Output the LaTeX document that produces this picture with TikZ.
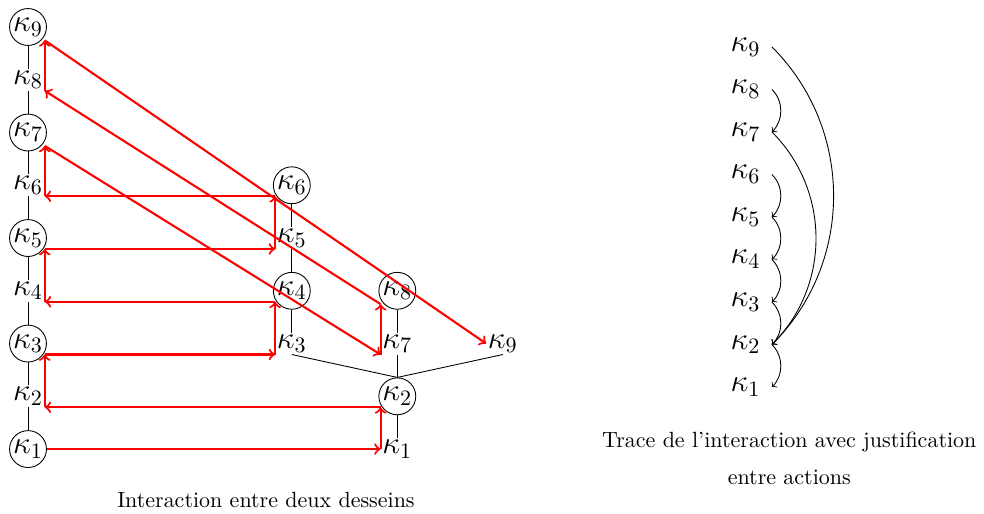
\documentclass[tikz,border=0pt]{standalone}
\usepackage{amsmath,amssymb}
\usepackage{tikz}

\begin{document}
\begin{tikzpicture}[x=0.843cm, y=0.843cm, every node/.style={font=\Large},
	actpos/.style={circle, draw, inner sep=0.3pt},
	actneg/.style={inner sep=0.6pt},
	inter/.style={->, red, line width=0.95pt},
	justif/.style={->, bend left=45}]
	\useasboundingbox (-0.531,-1.213) rectangle (18.12,8.512);
	% premier dessein
	\node[actpos] (a1) at (0,0) {$\kappa_1$};
	\node[actneg] (a2) at (0,1) {$\kappa_2$};
	\node[actpos] (a3) at (0,2) {$\kappa_3$};
	\node[actneg] (a4) at (0,3) {$\kappa_4$};
	\node[actpos] (a5) at (0,4) {$\kappa_5$};
	\node[actneg] (a6) at (0,5) {$\kappa_6$};
	\node[actpos] (a7) at (0,6) {$\kappa_7$};
	\node[actneg] (a8) at (0,7) {$\kappa_8$};
	\node[actpos] (a9) at (0,8) {$\kappa_9$};
	\draw (a1) -- (a2) -- (a3) -- (a4) -- (a5) -- (a6) -- (a7) -- (a8) -- (a9);
	% second dessein
	\node[actneg] (b1) at (7,0) {$\kappa_1$};
	\node[actpos] (b2) at (7,1) {$\kappa_2$};
	\node[actneg] (b3) at (5,2) {$\kappa_3$};
	\node[actpos] (b4) at (5,3) {$\kappa_4$};
	\node[actneg] (b5) at (5,4) {$\kappa_5$};
	\node[actpos] (b6) at (5,5) {$\kappa_6$};
	\node[actneg] (b7) at (7,2) {$\kappa_7$};
	\node[actpos] (b8) at (7,3) {$\kappa_8$};
	\node[actneg] (b9) at (9,2) {$\kappa_9$};
	\draw (b1) -- (b2);
	\draw (b2.north) -- (b3.south);
	\draw (b2.north) -- (b7.south);
	\draw (b2.north) -- (b9.south);
	\draw (b3) -- (b4) -- (b5) -- (b6);
	\draw (b7) -- (b8);
	% interaction
	\draw[inter] (a1.east) -- (b1.west);
	\draw[inter] (b1.west) -- (a2.south east -| b1.west);
	\draw[inter] (a2.south east -| b1.west) -- (a2.south east);
	\draw[inter] (a2.south east) -- (b3.south west -| a2.south east);
	\draw[inter] (b3.south west -| a2.south east) -- (b3.south west);
	\draw[inter] (b3.south west) -- (a4.south east -| b3.south west);
	\draw[inter] (a4.south east -| b3.south west) -- (a4.south east);
	\draw[inter] (a4.south east) -- (b5.south west -| a4.south east);
	\draw[inter] (b5.south west -| a4.south east) -- (b5.south west);
	\draw[inter] (b5.south west) -- (a6.south east -| b5.south west);
	\draw[inter] (a6.south east -| b5.south west) -- (a6.south east);
	\draw[inter] (a6.south east) -- (a7.south east -| a6.south east);
	\draw[inter] (a7.south east -| a6.south east) -- (b7.south west);
	\draw[inter] (b7.south west) -- (b8.south west -| b7.south west);
	\draw[inter] (b8.south west -| b7.south west) -- (a8.south east);
	\draw[inter] (a8.south east) -- (a9.south east -| a8.south east);
	\draw[inter] (a9.south east -| a8.south east) -- (b9.west);
	\node[font=\normalsize] (leg1) at (4.51,-0.97) {Interaction entre deux desseins};
	% trace
	\node[inner xsep=5pt] (t1) at (13.6,1.175) {$\kappa_1$};
	\node[inner xsep=5pt] (t2) at (13.6,1.981) {$\kappa_2$};
	\node[inner xsep=5pt] (t3) at (13.6,2.787) {$\kappa_3$};
	\node[inner xsep=5pt] (t4) at (13.6,3.593) {$\kappa_4$};
	\node[inner xsep=5pt] (t5) at (13.6,4.399) {$\kappa_5$};
	\node[inner xsep=5pt] (t6) at (13.6,5.205) {$\kappa_6$};
	\node[inner xsep=5pt] (t7) at (13.6,6.011) {$\kappa_7$};
	\node[inner xsep=5pt] (t8) at (13.6,6.817) {$\kappa_8$};
	\node[inner xsep=5pt] (t9) at (13.6,7.623) {$\kappa_9$};
	\draw[justif] (t8.east) to (t7.east);
	\draw[justif] (t6.east) to (t5.east);
	\draw[justif] (t5.east) to (t4.east);
	\draw[justif] (t4.east) to (t3.east);
	\draw[justif] (t3.east) to (t2.east);
	\draw[justif] (t2.east) to (t1.east);
	\draw[justif] (t7.east) to (t2.east);
	\draw[justif] (t9.east) to (t2.east);
	\node[font=\normalsize, align=center] (leg2) at (14.43,-0.18) {Trace de l'interaction avec justification\\[4.8pt] entre actions};
\end{tikzpicture}
\end{document}
